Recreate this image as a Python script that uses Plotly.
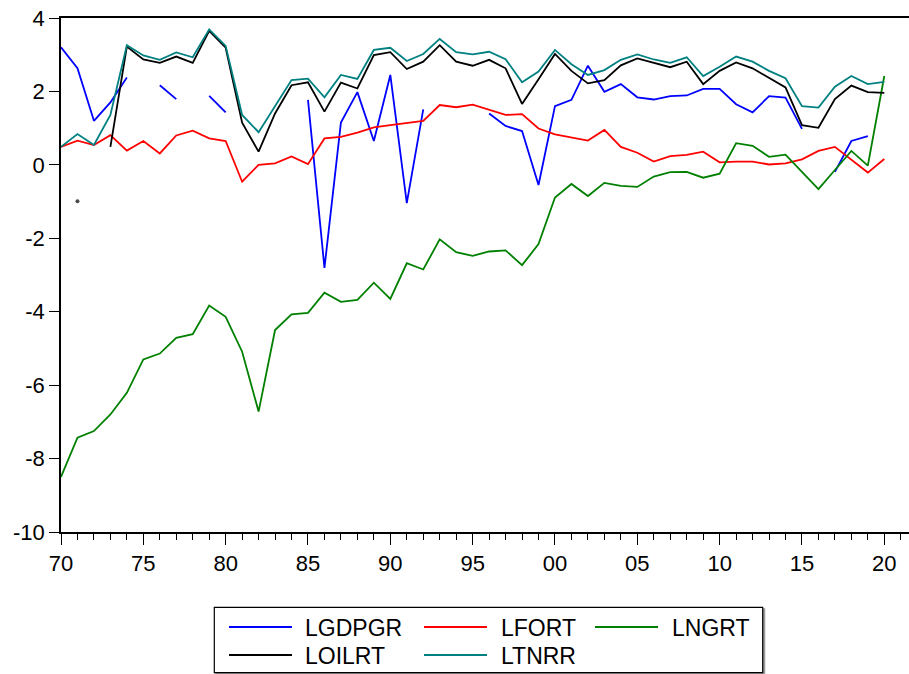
import plotly.graph_objects as go

years = list(range(1970, 2021))

lgdpgr = [3.20, 2.63, 1.20, 1.70, 2.38, None, 2.17, 1.79, None, 1.88,
          1.43, None, None, None, None, 1.77, -2.81, 1.15, 1.98, 0.65,
          2.45, -1.04, 1.51, None, None, None, 1.40, 1.06, 0.92, -0.55,
          1.60, 1.77, 2.70, 1.99, 2.20, 1.84, 1.78, 1.87, 1.89, 2.07,
          2.07, 1.65, 1.43, 1.87, 1.83, 0.98, None, -0.19, 0.65, 0.78,
          None]

lfort = [0.49, 0.66, 0.54, 0.81, 0.39, 0.65, 0.31, 0.80, 0.93, 0.72,
         0.65, -0.46, 0.00, 0.04, 0.23, 0.02, 0.72, 0.76, 0.88, 1.02,
         1.08, 1.15, 1.20, 1.63, 1.57, 1.64, 1.49, 1.36, 1.38, 0.99,
         0.83, 0.74, 0.66, 0.95, 0.49, 0.33, 0.09, 0.24, 0.27, 0.36,
         0.07, 0.09, 0.09, 0.01, 0.04, 0.15, 0.38, 0.49, 0.14, -0.21,
         0.16]

lngrt = [-8.50, -7.43, -7.25, -6.80, -6.21, -5.30, -5.14, -4.71, -4.61, -3.83,
         -4.14, -5.09, -6.72, -4.50, -4.07, -4.03, -3.48, -3.73, -3.68, -3.21,
         -3.65, -2.68, -2.85, -2.03, -2.38, -2.48, -2.36, -2.33, -2.73, -2.16,
         -0.89, -0.52, -0.85, -0.49, -0.57, -0.60, -0.32, -0.20, -0.19, -0.35,
         -0.24, 0.59, 0.52, 0.22, 0.28, -0.19, -0.66, -0.14, 0.38, -0.02,
         2.42]

loilrt = [None, -0.99, None, 0.49, 3.22, 2.87, 2.78, 2.95, 2.78, 3.65,
          3.19, 1.15, 0.36, 1.40, 2.17, 2.25, 1.45, 2.24, 2.08, 2.99,
          3.07, 2.61, 2.81, 3.26, 2.81, 2.70, 2.86, 2.63, 1.66, 2.33,
          3.02, 2.56, 2.22, 2.31, 2.71, 2.90, 2.78, 2.66, 2.81, 2.20,
          2.56, 2.79, 2.63, 2.36, 2.11, 1.08, 1.01, 1.79, 2.16, 1.98,
          1.96]

ltnrr = [0.49, 0.84, 0.54, 1.36, 3.26, 2.98, 2.86, 3.06, 2.93, 3.69,
         3.24, 1.36, 0.89, 1.60, 2.31, 2.35, 1.84, 2.45, 2.34, 3.13,
         3.19, 2.83, 3.02, 3.43, 3.07, 3.01, 3.08, 2.88, 2.25, 2.54,
         3.13, 2.74, 2.45, 2.58, 2.86, 3.01, 2.87, 2.78, 2.93, 2.42,
         2.67, 2.95, 2.81, 2.56, 2.36, 1.60, 1.56, 2.13, 2.42, 2.20,
         2.26]

series_names = ["LGDPGR", "LFORT", "LNGRT", "LOILRT", "LTNRR"]
series_values = [lgdpgr, lfort, lngrt, loilrt, ltnrr]
series_colors = ["#0000FF", "#FF0000", "#008000", "#000000", "#008080"]

x_tick_years = list(range(1970, 2021, 5))
x_tick_text = ["70", "75", "80", "85", "90", "95", "00", "05", "10", "15", "20"]
y_tick_vals = list(range(-10, 5, 2))
y_tick_text = ["-10", "-8", "-6", "-4", "-2", "0", "2", "4"]

FONT = "Liberation Sans, Arial, sans-serif"
W, H = 909, 674
ML, MR, MT, MB = 61, 0, 18, 142
PW, PH = W - ML - MR, H - MT - MB


def isolated_sizes(vals):
    # values with no neighbour on either side get a dot, since a line can't show them
    sizes = []
    for i, v in enumerate(vals):
        prev_ok = i > 0 and vals[i - 1] is not None
        next_ok = i < len(vals) - 1 and vals[i + 1] is not None
        sizes.append(4 if (v is not None and not prev_ok and not next_ok) else 0)
    return sizes


fig = go.Figure()
for name, vals, col in zip(series_names, series_values, series_colors):
    fig.add_trace(go.Scatter(
        x=years, y=vals, name=name, mode="lines+markers",
        line=dict(color=col, width=1.8),
        marker=dict(size=isolated_sizes(vals), color=col, line=dict(width=0)),
        connectgaps=False, showlegend=False,
    ))


def px_x(px):
    return (px - ML) / PW


def px_y(py):
    return (H - MB - py) / PH


shapes = []
annotations = []

# legend frame with a faint drop shadow
shapes.append(dict(type="rect", xref="paper", yref="paper",
                   x0=px_x(216), x1=px_x(764.5), y0=px_y(609), y1=px_y(674.5),
                   line=dict(color="#9a9a9a", width=1.5), fillcolor="#9a9a9a", layer="above"))
shapes.append(dict(type="rect", xref="paper", yref="paper",
                   x0=px_x(214.3), x1=px_x(762.7), y0=px_y(607.3), y1=px_y(672.7),
                   line=dict(color="#000000", width=1.2), fillcolor="#FFFFFF", layer="above"))

legend_slots = [(229, 303, 627), (424, 499, 627), (595, 670, 627),
                (229, 303, 655), (424, 499, 655)]
for (lx, tx, ly), name, col in zip(legend_slots, series_names, series_colors):
    shapes.append(dict(type="line", xref="paper", yref="paper",
                       x0=px_x(lx), x1=px_x(lx + 63), y0=px_y(ly), y1=px_y(ly),
                       line=dict(color=col, width=1.8), layer="above"))
    annotations.append(dict(xref="paper", yref="paper", x=px_x(tx), y=px_y(ly + 1),
                            text=name, showarrow=False, xanchor="left", yanchor="middle",
                            font=dict(family=FONT, size=23, color="#000000")))

fig.update_layout(
    width=W, height=H,
    margin=dict(l=ML, r=MR, t=MT, b=MB, pad=0),
    paper_bgcolor="#FFFFFF", plot_bgcolor="#FFFFFF",
    font=dict(family=FONT, size=22, color="#000000"),
    shapes=shapes, annotations=annotations,
    xaxis=dict(
        range=[1970, 2021.5], showgrid=False, zeroline=False,
        showline=True, linecolor="#000000", linewidth=1.5, mirror=True,
        tickmode="array", tickvals=x_tick_years, ticktext=x_tick_text,
        ticks="outside", ticklen=11, tickwidth=1.2, tickcolor="#000000",
        minor=dict(dtick=1, tick0=1970, ticks="outside", ticklen=6,
                   tickwidth=1.2, tickcolor="#000000", showgrid=False),
        tickfont=dict(family=FONT, size=22, color="#000000"),
    ),
    yaxis=dict(
        range=[-10, 4], showgrid=False, zeroline=False,
        showline=True, linecolor="#000000", linewidth=1.5, mirror=False,
        tickmode="array", tickvals=y_tick_vals, ticktext=y_tick_text,
        ticks="outside", ticklen=10, tickwidth=1.2, tickcolor="#000000",
        tickfont=dict(family=FONT, size=22, color="#000000"),
    ),
)

fig.write_html("out.html")
